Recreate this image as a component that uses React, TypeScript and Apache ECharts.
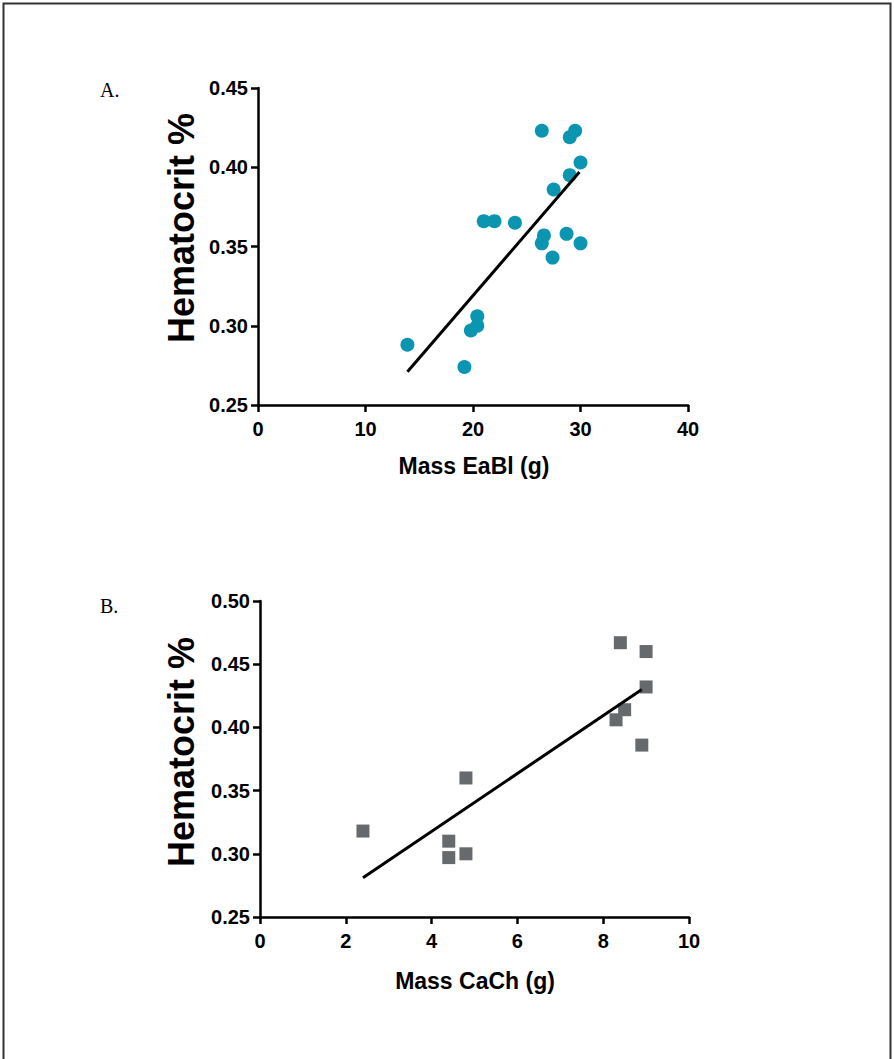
import React, { useEffect, useRef } from "react";
import * as echarts from "echarts";

// Panel A: Mass EaBl (g) vs Hematocrit %
const massEaBl = [26.4, 29.0, 29.5, 30.0, 29.0, 27.5, 21.0, 22.0, 23.9, 26.6, 26.4, 28.7, 30.0, 27.4, 20.4, 20.4, 19.8, 13.9, 19.2];
const hctA = [0.423, 0.419, 0.423, 0.403, 0.395, 0.386, 0.366, 0.366, 0.365, 0.357, 0.352, 0.358, 0.352, 0.343, 0.306, 0.300, 0.297, 0.288, 0.274];
const fitAx = [13.9, 29.9];
const fitAy = [0.271, 0.397];

// Panel B: Mass CaCh (g) vs Hematocrit %
const massCaCh = [2.4, 4.4, 4.4, 4.8, 4.8, 8.4, 9.0, 9.0, 8.5, 8.3, 8.9];
const hctB = [0.318, 0.310, 0.297, 0.300, 0.360, 0.467, 0.460, 0.432, 0.414, 0.406, 0.386];
const fitBx = [2.4, 8.9];
const fitBy = [0.281, 0.430];

const xTicksA = [0, 10, 20, 30, 40];
const yTicksA = [0.25, 0.3, 0.35, 0.4, 0.45];
const xTicksB = [0, 2, 4, 6, 8, 10];
const yTicksB = [0.25, 0.3, 0.35, 0.4, 0.45, 0.5];

const FONT = "'Liberation Sans', Arial, sans-serif";

function zip(xs: number[], ys: number[]) {
  return xs.map((x, i) => [x, ys[i]]);
}

function xAxisCfg(grid: number, ticks: number[]) {
  return {
    type: "value",
    gridIndex: grid,
    min: ticks[0],
    max: ticks[ticks.length - 1],
    interval: ticks[1] - ticks[0],
    axisLine: { show: true, onZero: false, lineStyle: { color: "#000", width: 2.5 } },
    axisTick: { show: true, length: 7, lineStyle: { color: "#000", width: 2.5 } },
    axisLabel: { color: "#000", fontSize: 20, fontWeight: "bold", fontFamily: FONT, margin: 14 },
    splitLine: { show: false },
  };
}

function yAxisCfg(grid: number, ticks: number[]) {
  return {
    type: "value",
    gridIndex: grid,
    min: ticks[0],
    max: ticks[ticks.length - 1],
    interval: 0.05,
    axisLine: { show: true, onZero: false, lineStyle: { color: "#000", width: 2.5 } },
    axisTick: { show: true, length: 7, lineStyle: { color: "#000", width: 2.5 } },
    axisLabel: {
      color: "#000",
      fontSize: 20,
      fontWeight: "bold",
      fontFamily: FONT,
      margin: 10,
      formatter: (v: number) => v.toFixed(2),
    },
    splitLine: { show: false },
  };
}

export default function App() {
  const ref = useRef<HTMLDivElement>(null);
  useEffect(() => {
    if (!ref.current) return;
    const chart = echarts.init(ref.current, undefined, { renderer: "svg" });
    const titleStyle = { fill: "#000", font: `bold 36px ${FONT}`, textAlign: "center", textVerticalAlign: "middle" };
    chart.setOption({
      animation: false,
      backgroundColor: "#fff",
      grid: [
        { left: 258, top: 88, width: 430, height: 317 },
        { left: 260, top: 601, width: 429, height: 316 },
      ],
      xAxis: [xAxisCfg(0, xTicksA), xAxisCfg(1, xTicksB)],
      yAxis: [yAxisCfg(0, yTicksA), yAxisCfg(1, yTicksB)],
      series: [
        {
          type: "scatter",
          xAxisIndex: 0,
          yAxisIndex: 0,
          symbol: "circle",
          symbolSize: 14,
          itemStyle: { color: "#0a95b0", opacity: 1 },
          data: zip(massEaBl, hctA),
        },
        {
          type: "line",
          xAxisIndex: 0,
          yAxisIndex: 0,
          symbol: "none",
          lineStyle: { color: "#000", width: 3 },
          data: zip(fitAx, fitAy),
        },
        {
          type: "scatter",
          xAxisIndex: 1,
          yAxisIndex: 1,
          symbol: "rect",
          symbolSize: 13,
          itemStyle: { color: "#676a6c", opacity: 1 },
          data: zip(massCaCh, hctB),
        },
        {
          type: "line",
          xAxisIndex: 1,
          yAxisIndex: 1,
          symbol: "none",
          lineStyle: { color: "#000", width: 3 },
          data: zip(fitBx, fitBy),
        },
      ],
      graphic: [
        {
          type: "rect",
          shape: { x: 3.5, y: 3.5, width: 887, height: 1080 },
          style: { fill: "none", stroke: "#333", lineWidth: 2 },
          silent: true,
        },
        {
          type: "text",
          x: 100,
          y: 90,
          style: { text: "A.", fill: "#000", font: "20px 'Liberation Serif', 'Times New Roman', serif", textVerticalAlign: "middle" },
        },
        {
          type: "text",
          x: 100,
          y: 606,
          style: { text: "B.", fill: "#000", font: "20px 'Liberation Serif', 'Times New Roman', serif", textVerticalAlign: "middle" },
        },
        {
          type: "text",
          x: 181,
          y: 228,
          rotation: Math.PI / 2,
          style: { text: "Hematocrit %", ...titleStyle },
        },
        {
          type: "text",
          x: 181,
          y: 752,
          rotation: Math.PI / 2,
          style: { text: "Hematocrit %", ...titleStyle },
        },
        {
          type: "text",
          x: 474,
          y: 466,
          style: { text: "Mass EaBl (g)", fill: "#000", font: `bold 23px ${FONT}`, textAlign: "center", textVerticalAlign: "middle" },
        },
        {
          type: "text",
          x: 475,
          y: 981,
          style: { text: "Mass CaCh (g)", fill: "#000", font: `bold 23px ${FONT}`, textAlign: "center", textVerticalAlign: "middle" },
        },
      ],
    });
    return () => chart.dispose();
  }, []);
  return <div ref={ref} style={{ position: "absolute", left: 0, top: 0, width: 894, height: 1059 }} />;
}
